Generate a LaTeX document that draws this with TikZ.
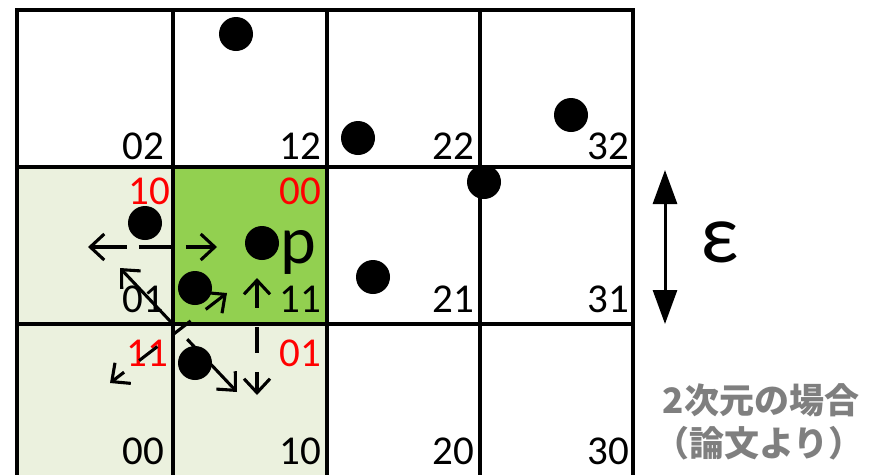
\documentclass[tikz,border=0pt]{standalone}
\usepackage{fontspec}
\setmainfont{Carlito}
\newfontfamily\jpfont{Noto Sans CJK JP}
\usetikzlibrary{arrows.meta}
\definecolor{palegreen}{HTML}{EBF1DE}
\definecolor{brightgreen}{HTML}{92D050}
\definecolor{jpgray}{HTML}{7F7F7F}
\begin{document}
\begin{tikzpicture}[x=1pt,y=-1pt,
  gridline/.style={line width=3.3pt},
  dot/.style={circle,fill=black,inner sep=0pt,minimum size=34pt},
  cellnum/.style={anchor=base east,inner sep=0pt,font=\fontsize{41}{41}\selectfont},
  rednum/.style={cellnum,text=red},
  jptext/.style={inner sep=0pt,text=jpgray,font=\jpfont\bfseries\fontsize{35}{35}\selectfont},
  darr/.style={line width=3.1pt,{Straight Barb[length=14pt,width=26pt]}-{Straight Barb[length=14pt,width=26pt]}}
]
\useasboundingbox (0,0) rectangle (879,475);
% cell fills
\fill[palegreen] (17,167) rectangle (173,475);
\fill[palegreen] (173,324) rectangle (327,475);
\fill[brightgreen] (173,167) rectangle (327,324);
% grid
\foreach \x in {17,173,327,480,633} \draw[gridline] (\x,8.35) -- (\x,475);
\foreach \y in {10,167,324} \draw[gridline] (15.35,\y) -- (634.65,\y);
% cell labels
\node[cellnum] (l02) at (164,159) {02};
\node[cellnum] (l12) at (321,159) {12};
\node[cellnum] (l22) at (474,159) {22};
\node[cellnum] (l32) at (629,159) {32};
\node[cellnum] (l01) at (164,312) {01};
\node[cellnum] (l11) at (321,312) {11};
\node[cellnum] (l21) at (474,312) {21};
\node[cellnum] (l31) at (629,312) {31};
\node[cellnum] (l00) at (164,464) {00};
\node[cellnum] (l10) at (321,464) {10};
\node[cellnum] (l20) at (474,464) {20};
\node[cellnum] (l30) at (629,464) {30};
% red labels
\node[rednum] (r10) at (170,204) {10};
\node[rednum] (r00) at (321,204) {00};
\node[rednum] (r11) at (168,366) {11};
\node[rednum] (r01) at (321,366) {01};
% p and epsilon
\node[anchor=base west,inner sep=0pt,font=\fontsize{68}{68}\selectfont] (p) at (280,263) {p};
\node[anchor=base west,inner sep=0pt,font=\fontsize{84}{84}\selectfont] (eps) at (700,262) {ε};
% neighbour arrows
\coordinate (hL) at (88,247);  \coordinate (hR) at (217,247);
\coordinate (vU) at (257,278); \coordinate (vD) at (257,395);
\coordinate (aUL) at (120,268); \coordinate (aDR) at (237,392);
\coordinate (bUR) at (227,293); \coordinate (bDL) at (110,383);
\draw[darr,dash pattern=on 35pt off 12pt] (hL) -- (hR);
\draw[darr,dash pattern=on 26pt off 19pt] (vU) -- (vD);
\draw[darr,dash pattern=on 76pt off 18pt] (aUL) -- (aDR);
\draw[darr,dash pattern=on 23pt off 19pt] (bUR) -- (bDL);
% epsilon arrow
\coordinate (eT) at (665,170); \coordinate (eB) at (665,324);
\draw[line width=3pt,{Triangle[length=34pt,width=24pt]}-{Triangle[length=34pt,width=24pt]}] (eT) -- (eB);
% points
\node[dot] (d1) at (236,34) {};
\node[dot] (d2) at (358,138) {};
\node[dot] (d3) at (571,115) {};
\node[dot] (d4) at (484,182) {};
\node[dot] (d5) at (145,223) {};
\node[dot] (d6) at (262,243) {};
\node[dot] (d7) at (195,288) {};
\node[dot] (d8) at (373,277) {};
\node[dot] (d9) at (195,363) {};
% caption
\node[jptext] (cap1) at (761,400) {2次元の場合};
\node[jptext] (cap2) at (759,443) {（論文より）};
\end{tikzpicture}
\end{document}
